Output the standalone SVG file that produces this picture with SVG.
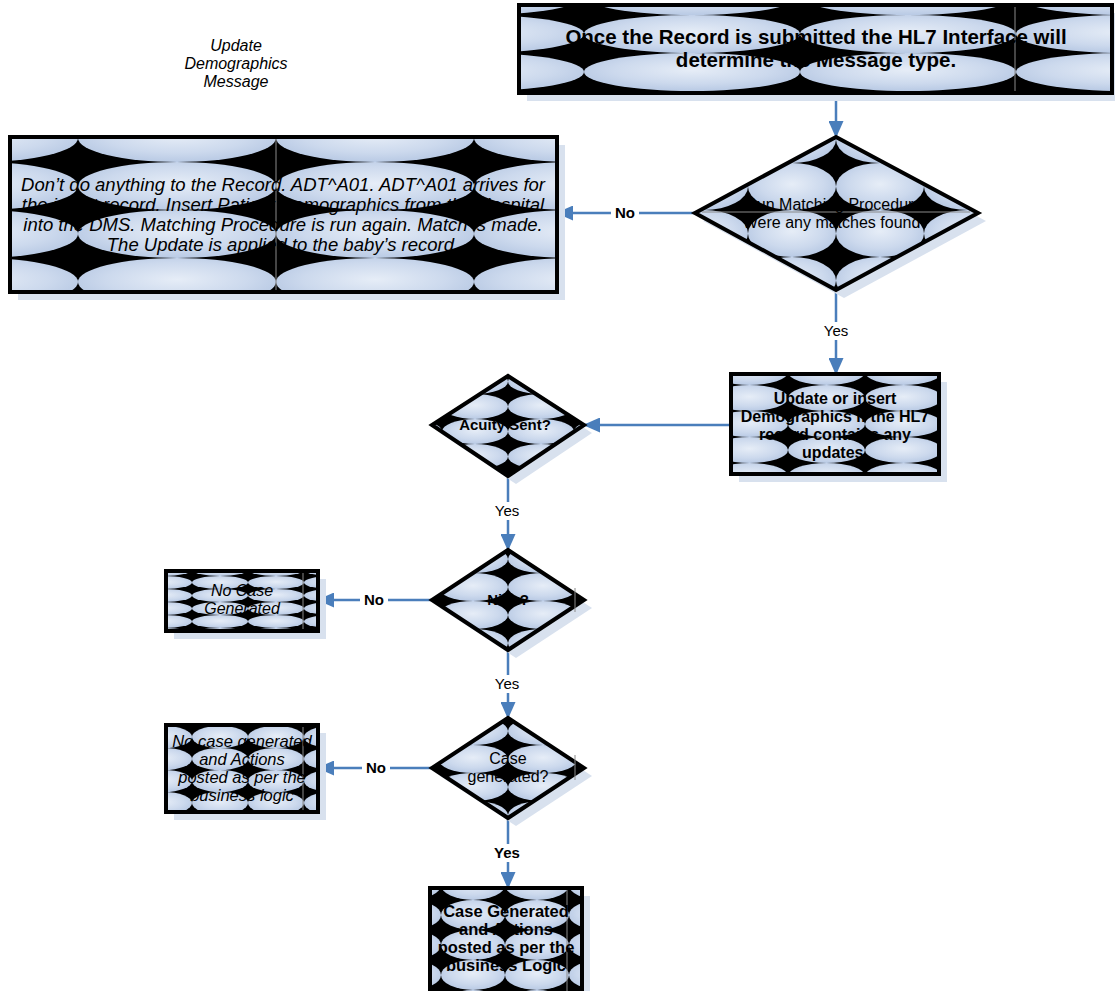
<svg xmlns="http://www.w3.org/2000/svg" width="1115" height="991" viewBox="0 0 1115 991">
  <style>
    .lbl { font-family: "Liberation Sans", Arial, sans-serif; fill: #000; text-anchor: middle; }
    .b { font-weight: bold; }
    .i { font-style: italic; }
    .edge { stroke: #000; stroke-width: 4; }
    .shadow { fill: #d8e1ee; }
    .wire { fill: none; stroke: #4a7ebb; stroke-width: 2.5; }
    .grid { stroke: #8a8a8a; stroke-width: 1; }
    .tagbg { fill: #fff; }
  </style>
  <defs>
    <radialGradient id="blob" cx="50%" cy="45%" r="60%">
      <stop offset="0" stop-color="#e6edf7"/>
      <stop offset="0.6" stop-color="#ccd9ed"/>
      <stop offset="1" stop-color="#b4c6e2"/>
    </radialGradient>
    <!-- tiled ellipse fills, one grid per shape -->
    <pattern id="pTop" patternUnits="userSpaceOnUse" x="584" y="15" width="216" height="38">
      <rect width="216" height="38" fill="#000"/>
      <ellipse cx="108" cy="19" rx="108" ry="19" fill="url(#blob)"/>
    </pattern>
    <pattern id="pLeft" patternUnits="userSpaceOnUse" x="78" y="162" width="198" height="48">
      <rect width="198" height="48" fill="#000"/>
      <ellipse cx="99" cy="24" rx="99" ry="24" fill="url(#blob)"/>
    </pattern>
    <pattern id="pMatch" patternUnits="userSpaceOnUse" x="836" y="163" width="88" height="47">
      <rect width="88" height="47" fill="#000"/>
      <ellipse cx="44" cy="23.5" rx="44" ry="23.5" fill="url(#blob)"/>
    </pattern>
    <pattern id="pUpd" patternUnits="userSpaceOnUse" x="788" y="385" width="77" height="26">
      <rect width="77" height="26" fill="#000"/>
      <ellipse cx="38.5" cy="13" rx="38.5" ry="13" fill="url(#blob)"/>
    </pattern>
    <pattern id="pAcu" patternUnits="userSpaceOnUse" x="508" y="394" width="66" height="25">
      <rect width="66" height="25" fill="#000"/>
      <ellipse cx="33" cy="12.5" rx="33" ry="12.5" fill="url(#blob)"/>
    </pattern>
    <pattern id="pNicu" patternUnits="userSpaceOnUse" x="508" y="573" width="70" height="28">
      <rect width="70" height="28" fill="#000"/>
      <ellipse cx="35" cy="14" rx="35" ry="14" fill="url(#blob)"/>
    </pattern>
    <pattern id="pCase" patternUnits="userSpaceOnUse" x="508" y="745" width="70" height="28">
      <rect width="70" height="28" fill="#000"/>
      <ellipse cx="35" cy="14" rx="35" ry="14" fill="url(#blob)"/>
    </pattern>
    <pattern id="pNo1" patternUnits="userSpaceOnUse" x="192" y="576" width="56" height="13">
      <rect width="56" height="13" fill="#000"/>
      <ellipse cx="28" cy="6.5" rx="28" ry="6.5" fill="url(#blob)"/>
    </pattern>
    <pattern id="pNo2" patternUnits="userSpaceOnUse" x="192" y="748" width="56" height="22">
      <rect width="56" height="22" fill="#000"/>
      <ellipse cx="28" cy="11" rx="28" ry="11" fill="url(#blob)"/>
    </pattern>
    <pattern id="pGen" patternUnits="userSpaceOnUse" x="505" y="900" width="64" height="30">
      <rect width="64" height="30" fill="#000"/>
      <ellipse cx="32" cy="15" rx="32" ry="15" fill="url(#blob)"/>
    </pattern>
    <marker id="head" markerUnits="userSpaceOnUse" markerWidth="17" markerHeight="15" refX="16" refY="7.5" orient="auto">
      <path d="M0,0 L17,7.5 L0,15 z" fill="#4a7ebb"/>
    </marker>
  </defs>

  <rect width="1115" height="991" fill="#fff"/>

  <!-- heading -->
  <g id="title">
    <text class="lbl i" font-size="16" x="236" y="51">Update</text>
    <text class="lbl i" font-size="16" x="236" y="69">Demographics</text>
    <text class="lbl i" font-size="16" x="236" y="87">Message</text>
  </g>

  <!-- flow lines -->
  <g id="connectors">
    <path class="wire" d="M836,93 L836,137" marker-end="url(#head)"/>
    <path class="wire" d="M695,213 L557,213" marker-end="url(#head)"/>
    <path class="wire" d="M836,290 L836,374" marker-end="url(#head)"/>
    <path class="wire" d="M731,425 L584,425" marker-end="url(#head)"/>
    <path class="wire" d="M508,476 L508,550" marker-end="url(#head)"/>
    <path class="wire" d="M432,600 L318,600" marker-end="url(#head)"/>
    <path class="wire" d="M508,650 L508,718" marker-end="url(#head)"/>
    <path class="wire" d="M432,768 L318,768" marker-end="url(#head)"/>
    <path class="wire" d="M508,818 L508,888" marker-end="url(#head)"/>

    <rect class="tagbg" x="611" y="204" width="28" height="18"/>
    <text class="lbl b" font-size="15" x="625" y="218">No</text>
    <rect class="tagbg" x="819" y="322" width="34" height="18"/>
    <text class="lbl" font-size="15" x="836" y="336">Yes</text>
    <rect class="tagbg" x="490" y="502" width="34" height="18"/>
    <text class="lbl" font-size="15" x="507" y="516">Yes</text>
    <rect class="tagbg" x="360" y="591" width="28" height="18"/>
    <text class="lbl b" font-size="15" x="374" y="605">No</text>
    <rect class="tagbg" x="490" y="675" width="34" height="18"/>
    <text class="lbl" font-size="15" x="507" y="689">Yes</text>
    <rect class="tagbg" x="362" y="759" width="28" height="18"/>
    <text class="lbl b" font-size="15" x="376" y="773">No</text>
    <rect class="tagbg" x="490" y="844" width="34" height="18"/>
    <text class="lbl b" font-size="15" x="507" y="858">Yes</text>
  </g>

  <g id="hl7-interface">
    <rect class="shadow" x="527" y="13" width="593" height="88"/>
    <rect class="edge" x="519" y="5" width="593" height="88" fill="url(#pTop)"/>
    <line class="grid" x1="1015" y1="7" x2="1015" y2="91"/>
    <text class="lbl b" font-size="20.5" x="816" y="44">Once the Record is submitted the HL7 Interface will</text>
    <text class="lbl b" font-size="20.5" x="816" y="67">determine the Message type.</text>
  </g>

  <g id="no-match">
    <rect class="shadow" x="18" y="145" width="547" height="155"/>
    <rect class="edge" x="10" y="137" width="547" height="155" fill="url(#pLeft)"/>
    <line class="grid" x1="276" y1="139" x2="276" y2="290"/>
    <text class="lbl i" font-size="18.5" x="283" y="191">Don’t do anything to the Record. ADT^A01. ADT^A01 arrives for</text>
    <text class="lbl i" font-size="18.5" x="283" y="211">the infant record. Insert Patient Demographics from the Hospital</text>
    <text class="lbl i" font-size="18.5" x="283" y="231">into the DMS. Matching Procedure is run again. Match is made.</text>
    <text class="lbl i" font-size="18.5" x="283" y="251">The Update is applied to the baby’s record.</text>
  </g>

  <g id="matching">
    <polygon class="shadow" points="844,145 986,221 844,298 703,221"/>
    <polygon class="edge" points="836,137 978,213 836,290 695,213" fill="url(#pMatch)"/>
    <line class="grid" x1="702" y1="212" x2="970" y2="212"/>
    <text class="lbl" font-size="16" x="836" y="210">Run Matching Procedure.</text>
    <text class="lbl" font-size="16" x="836" y="228">Were any matches found?</text>
  </g>

  <g id="update-insert">
    <rect class="shadow" x="739" y="382" width="208" height="100"/>
    <rect class="edge" x="731" y="374" width="208" height="100" fill="url(#pUpd)"/>
    <text class="lbl b" font-size="16" x="835" y="404">Update or insert</text>
    <text class="lbl b" font-size="16" x="835" y="422">Demographics if the HL7</text>
    <text class="lbl b" font-size="16" x="835" y="440">record contains any</text>
    <text class="lbl b" font-size="16" x="835" y="458">updates.</text>
  </g>

  <g id="acuity">
    <polygon class="shadow" points="516,384 592,433 516,484 440,433"/>
    <polygon class="edge" points="508,376 584,425 508,476 432,425" fill="url(#pAcu)"/>
    <text class="lbl b" font-size="15" x="505" y="430">Acuity Sent?</text>
  </g>

  <g id="nicu">
    <polygon class="shadow" points="516,558 592,608 516,658 440,608"/>
    <polygon class="edge" points="508,550 584,600 508,650 432,600" fill="url(#pNicu)"/>
    <line class="grid" x1="575" y1="588" x2="575" y2="612"/>
    <text class="lbl b" font-size="15" x="508" y="605">Nicu?</text>
  </g>

  <g id="no-case">
    <rect class="shadow" x="174" y="579" width="152" height="60"/>
    <rect class="edge" x="166" y="571" width="152" height="60" fill="url(#pNo1)"/>
    <line class="grid" x1="303" y1="573" x2="303" y2="629"/>
    <text class="lbl i" font-size="16" x="242" y="596">No Case</text>
    <text class="lbl i" font-size="16" x="242" y="614">Generated</text>
  </g>

  <g id="case-check">
    <polygon class="shadow" points="516,726 592,776 516,826 440,776"/>
    <polygon class="edge" points="508,718 584,768 508,818 432,768" fill="url(#pCase)"/>
    <line class="grid" x1="575" y1="755" x2="575" y2="780"/>
    <text class="lbl" font-size="16" x="508" y="764">Case</text>
    <text class="lbl" font-size="16" x="508" y="782">generated?</text>
  </g>

  <g id="no-case-actions">
    <rect class="shadow" x="174" y="733" width="152" height="87"/>
    <rect class="edge" x="166" y="725" width="152" height="87" fill="url(#pNo2)"/>
    <line class="grid" x1="303" y1="727" x2="303" y2="810"/>
    <text class="lbl i" font-size="16.5" x="242" y="747">No case generated</text>
    <text class="lbl i" font-size="16.5" x="242" y="765">and Actions</text>
    <text class="lbl i" font-size="16.5" x="242" y="783">posted as per the</text>
    <text class="lbl i" font-size="16.5" x="242" y="801">business logic</text>
  </g>

  <g id="case-generated">
    <rect class="shadow" x="438" y="896" width="152" height="103"/>
    <rect class="edge" x="430" y="888" width="152" height="105" fill="url(#pGen)"/>
    <line class="grid" x1="567" y1="890" x2="567" y2="991"/>
    <text class="lbl b" font-size="16.5" x="506" y="917">Case Generated</text>
    <text class="lbl b" font-size="16.5" x="506" y="935">and Actions</text>
    <text class="lbl b" font-size="16.5" x="506" y="953">posted as per the</text>
    <text class="lbl b" font-size="16.5" x="506" y="971">business Logic</text>
  </g>
</svg>
